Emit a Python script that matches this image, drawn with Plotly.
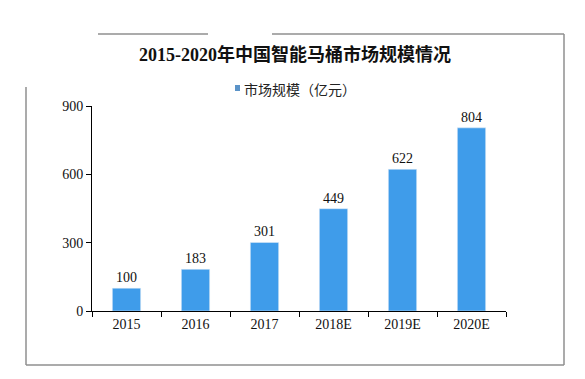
import plotly.graph_objects as go

categories = ["2015", "2016", "2017", "2018E", "2019E", "2020E"]
values = [100, 183, 301, 449, 622, 804]
series_name = "市场规模（亿元）"
title_text = "2015-2020年中国智能马桶市场规模情况"
y_ticks = [0, 300, 600, 900]

BAR = "#3f9cea"
SERIF = "Liberation Serif, 'Noto Sans CJK SC', serif"

OFF = 8  # default page body margin
FW, FH = 585 - OFF, 379 - OFF

# plot area in screen pixels: x 92..506, y 106..311
L, R, T, B = 92, 506, 106, 311
W, H = R - L, B - T

def px(x):
    return (x - L) / W

def py(y):
    return (B - y) / H

fig = go.Figure(go.Bar(
    x=categories, y=values, marker_color=BAR, width=0.41,
    text=[str(v) for v in values], textposition="outside",
    textfont=dict(family=SERIF, size=14, color="#111"),
    cliponaxis=False, showlegend=False,
))

fig.update_layout(
    width=FW, height=FH,
    margin=dict(l=L - OFF, r=FW - (R - OFF), t=T - OFF, b=FH - (B - OFF)),
    paper_bgcolor="white", plot_bgcolor="white",
    title=dict(text="<b>" + title_text + "</b>", x=(295 - OFF) / FW, xanchor="center",
               y=1 - (55 - OFF) / FH, yanchor="middle",
               font=dict(family=SERIF, size=18, color="#111")),
    xaxis=dict(showline=True, linecolor="black", linewidth=1, ticks="outside",
               tickson="boundaries", ticklen=5, tickcolor="black",
               tickfont=dict(family=SERIF, size=14, color="#111"), showgrid=False),
    yaxis=dict(range=[0, 900], tickvals=y_ticks, showline=True, linecolor="black",
               linewidth=1, ticks="outside", ticklen=5, tickcolor="black",
               tickfont=dict(family=SERIF, size=14, color="#111"), showgrid=False,
               zeroline=False),
)

# legend: small square + text
fig.add_shape(type="rect", xref="paper", yref="paper",
              x0=px(235), x1=px(240), y0=py(91), y1=py(85),
              fillcolor="#5b93c8", line=dict(width=0))
fig.add_annotation(xref="paper", yref="paper", x=px(242), y=py(89),
                   xanchor="left", yanchor="middle", showarrow=False,
                   text=series_name,
                   font=dict(family="'Noto Sans CJK SC', sans-serif", size=14, color="#222"))

# outer frame lines
gray = dict(color="#8f8f8f", width=1.5)
frame = [
    (26, 87, 26, 365),
    (26, 365, 564, 365),
    (564, 34, 564, 365),
    (98, 34, 208, 34),
    (272, 34, 564, 34),
]
for x0, y0, x1, y1 in frame:
    fig.add_shape(type="line", xref="paper", yref="paper",
                  x0=px(x0), y0=py(y0), x1=px(x1), y1=py(y1), line=gray)

fig.write_html("out.html")
